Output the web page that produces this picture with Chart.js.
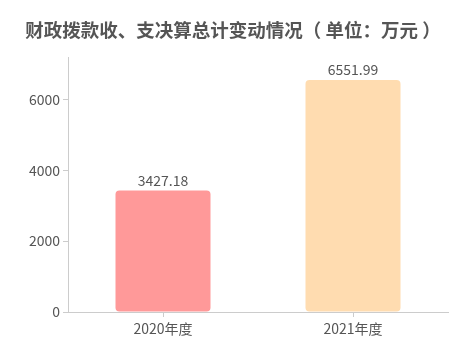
<!DOCTYPE html>
<html>
<head>
<meta charset="utf-8">
<script src="https://cdn.jsdelivr.net/npm/chart.js@4/dist/chart.umd.min.js"></script>
<style>
  html, body { margin: 0; padding: 0; background: #fff; }
  #wrap { width: 471px; height: 360px; }
</style>
</head>
<body>
<div id="wrap"><canvas id="grafico" width="471" height="360"></canvas></div>
<script>
// dados
const titulo = '财政拨款收、支决算总计变动情况（ 单位：万元 ）';
const anos = ['2020年度', '2021年度'];
const valores = [3427.18, 6551.99];
const cores = ['#FF9999', '#FFDCB0'];
const ticksY = [0, 2000, 4000, 6000];

const fonte = '"Noto Sans CJK SC", "Noto Sans", sans-serif';

// titulo centrado na largura toda
const cabecalho = {
  id: 'cabecalho',
  afterDraw(chart) {
    const ctx = chart.ctx;
    ctx.save();
    ctx.font = 'bold 18.5px ' + fonte;
    ctx.fillStyle = '#555';
    ctx.textAlign = 'center';
    ctx.textBaseline = 'middle';
    ctx.fillText(titulo, 233, 30);
    ctx.restore();
  }
};

// rotulo em cima de cada barra
const rotulos = {
  id: 'rotulos',
  afterDatasetsDraw(chart) {
    const ctx = chart.ctx;
    const meta = chart.getDatasetMeta(0);
    ctx.save();
    ctx.font = '14px ' + fonte;
    ctx.fillStyle = '#555';
    ctx.textAlign = 'center';
    ctx.textBaseline = 'bottom';
    meta.data.forEach((bar, i) => {
      ctx.fillText(valores[i].toFixed(2), bar.x, bar.y - 3);
    });
    ctx.restore();
  }
};

new Chart(document.getElementById('grafico'), {
  type: 'bar',
  data: {
    labels: anos,
    datasets: [{
      data: valores,
      backgroundColor: cores,
      borderRadius: 4,
      borderSkipped: false,
      barPercentage: 0.5,
      categoryPercentage: 1
    }]
  },
  options: {
    responsive: false,
    animation: false,
    layout: { padding: { left: 0, right: 23, top: 57, bottom: 0 } },
    plugins: {
      legend: { display: false },
      tooltip: { enabled: false },
      title: { display: false }
    },
    scales: {
      x: {
        offset: true,
        grid: { offset: false, drawOnChartArea: false, tickLength: 5, color: '#ccc' },
        border: { color: '#ccc' },
        ticks: { color: '#555', font: { family: fonte, size: 14 }, padding: 3 },
        afterFit(s) { s.height = 48; }
      },
      y: {
        min: 0,
        max: 7200,
        grid: { drawOnChartArea: false, tickLength: 5, color: '#ccc' },
        border: { color: '#ccc' },
        ticks: {
          color: '#555',
          font: { family: fonte, size: 14 },
          padding: 3,
          callback: v => String(v)
        },
        afterBuildTicks(s) { s.ticks = ticksY.map(v => ({ value: v })); },
        afterFit(s) { s.width = 68; }
      }
    }
  },
  plugins: [rotulos, cabecalho]
});
</script>
</body>
</html>
